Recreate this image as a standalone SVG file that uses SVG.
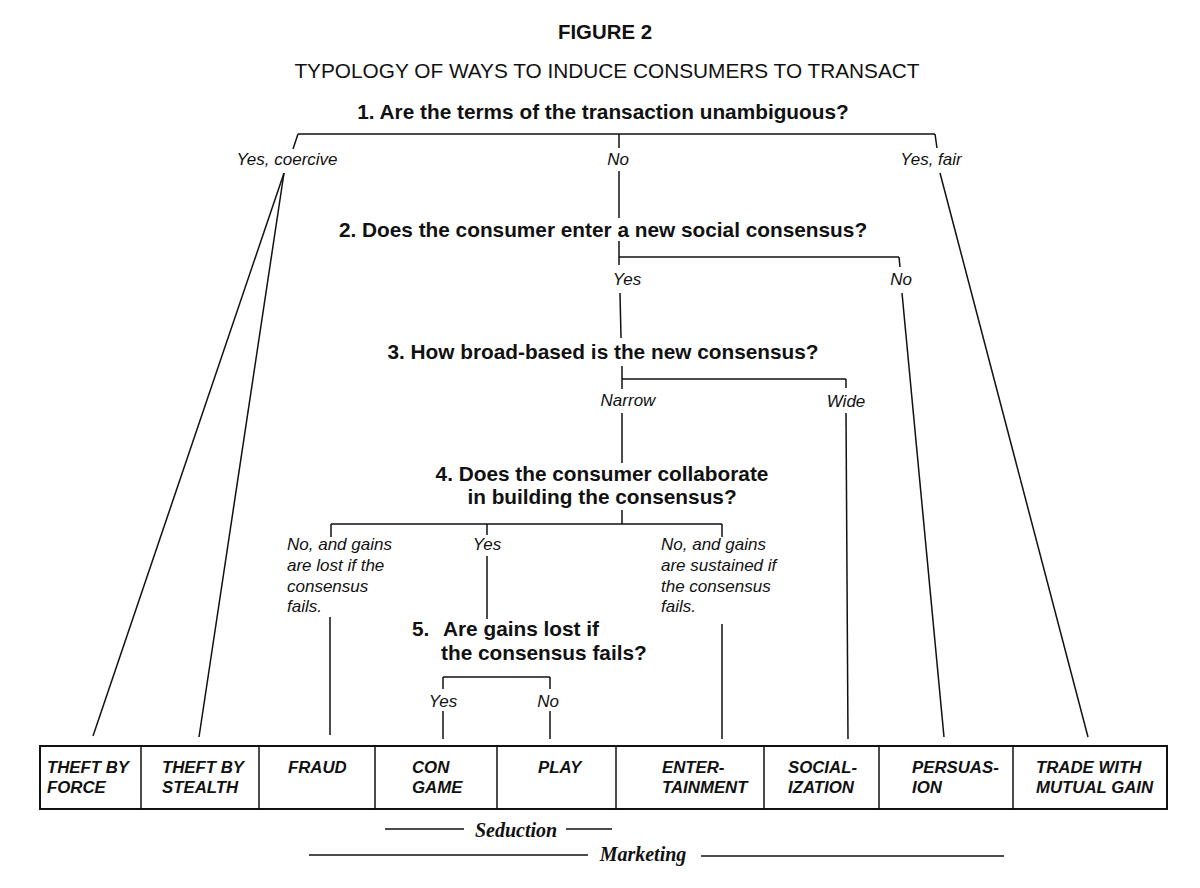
<svg xmlns="http://www.w3.org/2000/svg" width="1200" height="888" viewBox="0 0 1200 888">
<style>
.t{font-family:"Liberation Sans",Arial,Helvetica,sans-serif;fill:#111}
.title{font-size:20.4px;font-weight:bold}
.sub{font-size:20.8px}
.q{font-size:20.8px;font-weight:bold}
.lab{font-size:17px;font-style:italic}
.box{font-size:16.8px;font-weight:bold;font-style:italic}
.m{text-anchor:middle}
.ser{font-family:"Liberation Serif","Times New Roman",serif;font-size:20px;font-style:italic;font-weight:bold;fill:#111}
.ln line,.ln polyline{stroke:#111;stroke-width:1.5;fill:none}
.bar{stroke-width:2}
.frame{fill:#fff;stroke:#111;stroke-width:2}
</style>
<rect width="1200" height="888" fill="#fff"/>
<g id="title">
<text class="t title m" x="605" y="39">FIGURE 2</text>
<text class="t sub m" x="607" y="78">TYPOLOGY OF WAYS TO INDUCE CONSUMERS TO TRANSACT</text>
</g>
<g id="q1"><text class="t q m" x="603" y="119">1. Are the terms of the transaction unambiguous?</text></g>
<g id="q2"><text class="t q m" x="603" y="237">2. Does the consumer enter a new social consensus?</text></g>
<g id="q3"><text class="t q m" x="603" y="359">3. How broad-based is the new consensus?</text></g>
<g id="q4">
<text class="t q m" x="602" y="481">4. Does the consumer collaborate</text>
<text class="t q m" x="602" y="504">in building the consensus?</text>
</g>
<g id="q5">
<text class="t q" x="412" y="636">5.</text>
<text class="t q" x="443" y="636">Are gains lost if</text>
<text class="t q" x="441" y="660">the consensus fails?</text>
</g>
<g id="labels">
<text class="t lab m" x="287" y="165">Yes, coercive</text>
<text class="t lab m" x="618" y="165">No</text>
<text class="t lab m" x="931" y="165">Yes, fair</text>
<text class="t lab m" x="627" y="285">Yes</text>
<text class="t lab m" x="901" y="285">No</text>
<text class="t lab m" x="628" y="406">Narrow</text>
<text class="t lab m" x="846" y="407">Wide</text>
<text class="t lab" x="287" y="550">No, and gains</text>
<text class="t lab" x="287" y="571">are lost if the</text>
<text class="t lab" x="287" y="592">consensus</text>
<text class="t lab" x="287" y="612">fails.</text>
<text class="t lab m" x="487" y="550">Yes</text>
<text class="t lab" x="661" y="550">No, and gains</text>
<text class="t lab" x="661" y="571">are sustained if</text>
<text class="t lab" x="661" y="592">the consensus</text>
<text class="t lab" x="661" y="612">fails.</text>
<text class="t lab m" x="443" y="707">Yes</text>
<text class="t lab m" x="548" y="707">No</text>
</g>
<g id="connectors" class="ln">
<line class="bar" x1="298" y1="134" x2="935" y2="134"/>
<line x1="298" y1="134" x2="293" y2="149"/>
<line x1="284" y1="173" x2="93" y2="736"/>
<line x1="284" y1="173" x2="199" y2="737"/>
<line x1="619" y1="134" x2="619" y2="148"/>
<line x1="619" y1="171" x2="619" y2="218"/>
<line x1="935" y1="134" x2="937" y2="148"/>
<line x1="940" y1="173" x2="1088" y2="737"/>
<line x1="619" y1="241" x2="619" y2="265"/>
<line class="bar" x1="619" y1="257" x2="899" y2="257"/>
<line x1="899" y1="257" x2="900" y2="267"/>
<line x1="620" y1="293" x2="621" y2="338"/>
<line x1="902" y1="293" x2="944" y2="737"/>
<line x1="622" y1="366" x2="622" y2="389"/>
<line class="bar" x1="622" y1="379" x2="846" y2="379"/>
<line x1="846" y1="379" x2="846" y2="388"/>
<line x1="622" y1="413" x2="622" y2="463"/>
<line x1="846" y1="413" x2="848" y2="739"/>
<line x1="622" y1="510" x2="622" y2="524"/>
<line class="bar" x1="331" y1="524" x2="722" y2="524"/>
<line x1="331" y1="524" x2="331" y2="537"/>
<line x1="722" y1="524" x2="722" y2="537"/>
<line x1="487" y1="524" x2="487" y2="535"/>
<line x1="487" y1="556" x2="487" y2="619"/>
<line x1="330" y1="617" x2="330" y2="735"/>
<line x1="722" y1="624" x2="722" y2="739"/>
<line class="bar" x1="443" y1="677" x2="550" y2="677"/>
<line x1="443" y1="677" x2="443" y2="689"/>
<line x1="550" y1="677" x2="550" y2="689"/>
<line x1="443" y1="711" x2="443" y2="739"/>
<line x1="550" y1="711" x2="550" y2="739"/>
</g>
<g id="outcomes">
<rect class="frame" x="40" y="746" width="1127" height="63"/>
<g class="ln">
<line x1="141" y1="746" x2="141" y2="809"/>
<line x1="259" y1="746" x2="259" y2="809"/>
<line x1="375" y1="746" x2="375" y2="809"/>
<line x1="497" y1="746" x2="497" y2="809"/>
<line x1="616" y1="746" x2="616" y2="809"/>
<line x1="764" y1="746" x2="764" y2="809"/>
<line x1="879" y1="746" x2="879" y2="809"/>
<line x1="1013" y1="746" x2="1013" y2="809"/>
</g>
<g id="theft-force"><text class="t box" x="47" y="773">THEFT BY</text><text class="t box" x="47" y="793">FORCE</text></g>
<g id="theft-stealth"><text class="t box" x="162" y="773">THEFT BY</text><text class="t box" x="162" y="793">STEALTH</text></g>
<g id="fraud"><text class="t box" x="288" y="773">FRAUD</text></g>
<g id="con-game"><text class="t box" x="412" y="773">CON</text><text class="t box" x="412" y="793">GAME</text></g>
<g id="play"><text class="t box" x="538" y="773">PLAY</text></g>
<g id="entertainment"><text class="t box" x="662" y="773">ENTER-</text><text class="t box" x="662" y="793">TAINMENT</text></g>
<g id="socialization"><text class="t box" x="788" y="773">SOCIAL-</text><text class="t box" x="788" y="793">IZATION</text></g>
<g id="persuasion"><text class="t box" x="912" y="773">PERSUAS-</text><text class="t box" x="912" y="793">ION</text></g>
<g id="trade"><text class="t box" x="1036" y="773">TRADE WITH</text><text class="t box" x="1036" y="793">MUTUAL GAIN</text></g>
</g>
<g id="seduction">
<g class="ln"><line x1="385" y1="829" x2="464" y2="829"/><line x1="566" y1="829" x2="612" y2="829"/></g>
<text class="ser" x="516" y="837" text-anchor="middle">Seduction</text>
</g>
<g id="marketing">
<g class="ln"><line x1="309" y1="855" x2="588" y2="855"/><line x1="701" y1="856" x2="1004" y2="856"/></g>
<text class="ser" x="643" y="861" text-anchor="middle">Marketing</text>
</g>
</svg>
